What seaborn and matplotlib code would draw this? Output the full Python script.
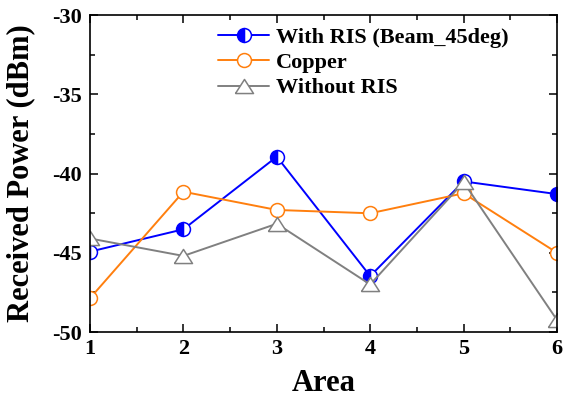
import matplotlib
matplotlib.use("Agg")
import matplotlib.pyplot as plt
import seaborn as sns
import pandas as pd
import numpy as np
from matplotlib.ticker import MultipleLocator

areas = [1, 2, 3, 4, 5, 6]
with_ris = [-44.93, -43.52, -38.94, -46.47, -40.5, -41.3]
copper = [-47.87, -41.15, -42.3, -42.51, -41.25, -45.0]
without_ris = [-44.1, -45.2, -43.17, -47.0, -40.55, -49.24]
labels = ["With RIS (Beam_45deg)", "Copper", "Without RIS"]
xticks = [1, 2, 3, 4, 5, 6]
yticks = [-50, -45, -40, -35, -30]

sns.set_theme(style="white")
plt.rcParams['font.family'] = ['Liberation Serif', 'DejaVu Serif']
plt.rcParams['font.weight'] = 'bold'
plt.rcParams['axes.labelweight'] = 'bold'
plt.rcParams['axes.unicode_minus'] = False

fig = plt.figure(figsize=(5.75, 3.98), dpi=100)
ax = fig.add_subplot(111)
fig.subplots_adjust(left=90/575, right=557/575, top=1-15/398, bottom=1-332/398)

df = pd.DataFrame({"Area": areas, "with": with_ris, "copper": copper, "without": without_ris})

tri = [(-1, -0.78), (1, -0.78), (0, 0.78), (-1, -0.78)]

sns.lineplot(data=df, x="Area", y="with", ax=ax, color="#0000FF", lw=1.4,
             marker="o", markersize=10, fillstyle="left", markerfacecolor="#0000FF",
             markerfacecoloralt="white", markeredgecolor="#0000FF", markeredgewidth=1.1,
             label=labels[0])
sns.lineplot(data=df, x="Area", y="copper", ax=ax, color="#FF7F0E", lw=1.4,
             marker="o", markersize=10, markerfacecolor="white",
             markeredgecolor="#FF7F0E", markeredgewidth=1.1, label=labels[1])
sns.lineplot(data=df, x="Area", y="without", ax=ax, color="#808080", lw=1.4,
             marker=tri, markersize=13, markerfacecolor="white",
             markeredgecolor="#808080", markeredgewidth=1.1, label=labels[2])

ax.set_xlim(1, 6)
ax.set_ylim(-50, -30)
ax.set_xticks(xticks)
ax.set_yticks(yticks)
ax.xaxis.set_minor_locator(MultipleLocator(0.5))
ax.yaxis.set_minor_locator(MultipleLocator(2.5))
ax.tick_params(which="both", direction="in", top=True, right=True, bottom=True, left=True,
               width=1.1, color="black")
ax.tick_params(which="major", length=6)
ax.tick_params(which="minor", length=3.5)
ax.tick_params(axis="x", which="major", labelsize=16, pad=5)
ax.tick_params(axis="y", which="major", labelsize=16, pad=6)
for lab in ax.get_xticklabels() + ax.get_yticklabels():
    lab.set_fontweight("bold")
    lab.set_color("black")
for s in ax.spines.values():
    s.set_color("black")
    s.set_linewidth(1.2)

ax.set_xlabel("Area", fontsize=22, fontweight="bold", color="black")
ax.set_ylabel("Received Power (dBm)", fontsize=22, fontweight="bold", color="black")
ax.xaxis.set_label_coords(0.5, -0.118)
ax.yaxis.set_label_coords(-0.118, 0.5)

leg = ax.legend(loc="upper left", bbox_to_anchor=(0.274, 0.962), frameon=False,
                borderpad=0, borderaxespad=0, handlelength=2.3, handletextpad=0.3,
                labelspacing=0.22, prop={"family": "Liberation Serif", "weight": "bold", "size": 16})
for t in leg.get_texts():
    t.set_color("black")

fig.savefig("out.png", dpi=100)
